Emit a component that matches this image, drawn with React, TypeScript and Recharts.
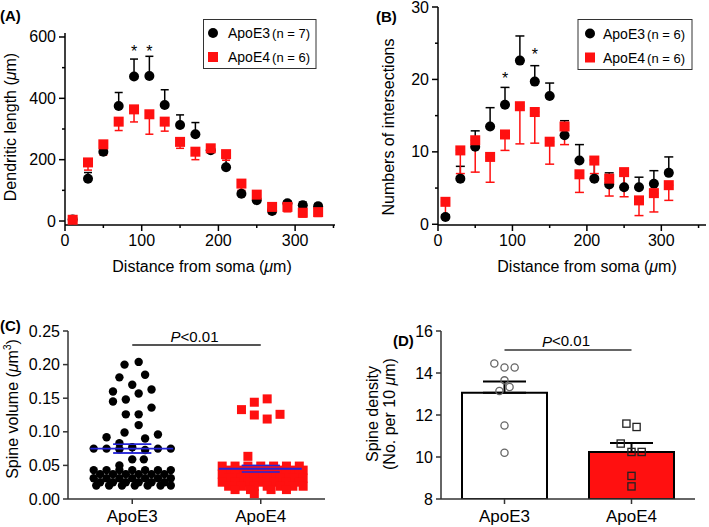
import React from 'react';
import { ComposedChart, Scatter, XAxis, YAxis, ErrorBar, Bar, Cell, ReferenceLine } from 'recharts';

const FONT = '"Liberation Sans", Arial, Helvetica, sans-serif';
const RED = '#ff1010';
const BLUE = '#2424d8';

// ---------- Panel A : dendritic length ----------
const distA = [10, 30, 50, 70, 90, 110, 130, 150, 170, 190, 210, 230, 250, 270, 290, 310, 330];
const lengthE3 = [5, 138, 226, 375, 471, 473, 378, 313, 283, 231, 175, 89, 68, 33, 58, 51, 48];
const lengthE3Err = [12, 20, 32, 44, 57, 64, 50, 33, 38, 17, 29, 22, 16, 7, 8, 11, 9];
const lengthE4 = [4, 191, 250, 324, 364, 348, 324, 258, 226, 237, 218, 122, 86, 46, 46, 27, 29];
const lengthE4Err = [3, 25, 35, 29, 41, 65, 31, 21, 26, 11, 20, 22, 16, 22, 16, 14, 14];
const sigAx = [90, 110];
const sigAy = [565, 565];
const ticksAx = [0, 50, 100, 150, 200, 250, 300, 350];
const ticksAy = [0, 100, 200, 300, 400, 500, 600];

// ---------- Panel B : intersections ----------
const distB = [10, 30, 50, 70, 90, 110, 130, 150, 170, 190, 210, 230, 250, 270, 290, 310];
const interE3 = [1.0, 6.3, 10.7, 13.5, 16.5, 22.6, 19.7, 17.7, 12.3, 8.8, 6.3, 5.5, 5.1, 5.1, 5.6, 7.1];
const interE3Err = [0.3, 1.7, 2.2, 2.6, 2.4, 3.4, 2.2, 1.8, 2.0, 2.2, 2.6, 1.6, 2.5, 1.4, 1.8, 2.2];
const interE4 = [3.1, 10.2, 11.6, 9.3, 12.4, 16.3, 15.5, 11.4, 13.5, 6.9, 8.8, 6.3, 7.2, 3.3, 4.3, 5.4];
const interE4Err = [2.1, 3.2, 4.4, 3.5, 2.2, 5.2, 4.3, 3.1, 2.5, 2.5, 1.8, 2.4, 3.4, 2.1, 2.6, 2.1];
const sigBx = [90, 130];
const sigBy = [20.6, 23.9];
const ticksBx = [0, 50, 100, 150, 200, 250, 300, 350];
const ticksBy = [0, 5, 10, 15, 20, 25, 30];

// ---------- Panel C : spine volume ----------
const groups = ['ApoE3', 'ApoE4'];
const volE3 = [
  0.200, 0.204, 0.181, 0.185, 0.170, 0.160, 0.163, 0.157, 0.145, 0.148, 0.136, 0.126, 0.126, 0.110,
  0.099, 0.096, 0.092, 0.090, 0.083,
  0.075, 0.075, 0.077, 0.075, 0.075, 0.074, 0.073,
  0.059, 0.059, 0.050,
  0.043, 0.043, 0.043, 0.043, 0.043, 0.043, 0.043,
  0.037, 0.037, 0.037, 0.037, 0.037, 0.037,
  0.031, 0.031, 0.031, 0.031, 0.031, 0.031, 0.031,
  0.025, 0.025, 0.025, 0.025, 0.025, 0.025,
  0.020, 0.020, 0.020, 0.020, 0.020, 0.020, 0.020,
];
const volE3Jitter = [
  -0.06, 0.05, -0.10, 0.10, 0.00, -0.15, 0.15, 0.05, -0.15, -0.05, 0.15, -0.05, 0.05, 0.05,
  -0.06, 0.20, -0.20, 0.10, -0.10,
  -0.30, -0.20, 0.00, 0.20, 0.30, -0.10, 0.10,
  0.00, 0.09, -0.10,
  -0.30, -0.20, -0.10, 0.00, 0.10, 0.20, 0.30,
  -0.25, -0.15, -0.05, 0.05, 0.15, 0.25,
  -0.30, -0.20, -0.10, 0.00, 0.10, 0.20, 0.30,
  -0.25, -0.15, -0.05, 0.05, 0.15, 0.25,
  -0.28, -0.18, -0.08, 0.02, 0.12, 0.22, 0.30,
];
const volE4 = [
  0.133, 0.144, 0.149, 0.125, 0.119, 0.126, 0.0635,
  0.049, 0.049, 0.049, 0.049, 0.049, 0.049, 0.049,
  0.043, 0.043, 0.043, 0.043, 0.043, 0.043, 0.043,
  0.037, 0.037, 0.037, 0.037, 0.037, 0.037, 0.037,
  0.031, 0.031, 0.031, 0.031, 0.031, 0.031, 0.031,
  0.025, 0.025, 0.025, 0.025, 0.025, 0.025, 0.025,
  0.019, 0.019, 0.019, 0.019, 0.019, 0.019, 0.019,
  0.014, 0.014, 0.014, 0.014, 0.008,
];
const volE4Jitter = [
  -0.15, -0.05, 0.05, -0.05, 0.05, 0.15, -0.10,
  -0.30, -0.20, -0.10, 0.00, 0.10, 0.20, 0.30,
  -0.25, -0.15, -0.05, 0.05, 0.15, 0.25, 0.33,
  -0.30, -0.20, -0.10, 0.00, 0.10, 0.20, 0.30,
  -0.25, -0.15, -0.05, 0.05, 0.15, 0.25, 0.33,
  -0.30, -0.20, -0.10, 0.00, 0.10, 0.20, 0.30,
  -0.25, -0.15, -0.05, 0.05, 0.15, 0.25, 0.33,
  -0.20, -0.08, 0.08, 0.20, -0.05,
];
const volMean = [0.075, 0.045];
const volSem = [0.0065, 0.0048];
const volPLine = 0.229;
const ticksCy = [0, 0.05, 0.1, 0.15, 0.2, 0.25];

// ---------- Panel D : spine density ----------
const densMean = [13.06, 10.24];
const densSem = [0.54, 0.43];
const densE3 = [14.45, 14.26, 14.26, 13.65, 13.33, 13.14, 11.5, 10.2];
const densE3Jitter = [-0.08, 0.0, 0.08, 0.0, 0.04, -0.04, 0.0, 0.0];
const densE4 = [11.59, 11.43, 10.64, 10.24, 10.24, 9.1, 8.6];
const densE4Jitter = [-0.04, 0.04, -0.085, 0.0, 0.08, 0.0, 0.0];
const densPLine = 15.1;
const ticksDy = [8, 10, 12, 14, 16];

// ---------- derived rows ----------
const rowsA3 = distA.map((x, i) => ({ x, y: lengthE3[i], err: [0, lengthE3Err[i]] }));
const rowsA4 = distA.map((x, i) => ({ x, y: lengthE4[i], err: [lengthE4Err[i], 0] }));
const rowsAsig = sigAx.map((x, i) => ({ x, y: sigAy[i] }));
const rowsB3 = distB.map((x, i) => ({ x, y: interE3[i], err: [0, interE3Err[i]] }));
const rowsB4 = distB.map((x, i) => ({ x, y: interE4[i], err: [interE4Err[i], 0] }));
const rowsBsig = sigBx.map((x, i) => ({ x, y: sigBy[i] }));
const rowsC3 = volE3.map((y, i) => ({ x: 0.5 + volE3Jitter[i], y }));
const rowsC4 = volE4.map((y, i) => ({ x: 1.5 + volE4Jitter[i], y }));
const rowsCmean = volMean.map((y, i) => ({ x: i + 0.5, y, err: volSem[i] }));
const rowsCsem = volMean.flatMap((y, i) => [
  { x: i + 0.5, y: y + volSem[i] },
  { x: i + 0.5, y: y - volSem[i] },
]);
const rowsD = groups.map((name, i) => ({ name, mean: densMean[i], err: [0, densSem[i]] }));
const rowsD3 = densE3.map((y, i) => ({ x: 0.5 + densE3Jitter[i], y }));
const rowsD4 = densE4.map((y, i) => ({ x: 1.5 + densE4Jitter[i], y }));

// ---------- helpers ----------
type TickCfg = {
  fs: number; len: number; minorLen: number; gap: number; color: string;
  major?: (v: any) => boolean; fmt?: (v: any) => string;
};
const bottomTick = (c: TickCfg) => (p: any) => {
  const v = p.payload.value;
  const isMajor = c.major ? c.major(v) : true;
  return (
    <g key={`bt-${v}`}>
      <line x1={p.x} x2={p.x} y1={p.y} y2={p.y + (isMajor ? c.len : c.minorLen)} stroke={c.color} strokeWidth={1.5} />
      {isMajor && (
        <text x={p.x} y={p.y + c.gap} textAnchor="middle" dominantBaseline="central" fontFamily={FONT} fontSize={c.fs} fill="#000">
          {c.fmt ? c.fmt(v) : String(v)}
        </text>
      )}
    </g>
  );
};
const leftTick = (c: TickCfg) => (p: any) => {
  const v = p.payload.value;
  const isMajor = c.major ? c.major(v) : true;
  return (
    <g key={`lt-${v}`}>
      <line x1={p.x} x2={p.x - (isMajor ? c.len : c.minorLen)} y1={p.y} y2={p.y} stroke={c.color} strokeWidth={1.5} />
      {isMajor && (
        <text x={p.x - c.gap} y={p.y} textAnchor="end" dominantBaseline="central" fontFamily={FONT} fontSize={c.fs} fill="#000">
          {c.fmt ? c.fmt(v) : String(v)}
        </text>
      )}
    </g>
  );
};
const dot = (r: number, fill: string) => (p: any) => <circle cx={p.cx} cy={p.cy} r={r} fill={fill} />;
const sq = (s: number, fill: string) => (p: any) => <rect x={p.cx - s / 2} y={p.cy - s / 2} width={s} height={s} fill={fill} />;
const openDot = (p: any) => <circle cx={p.cx} cy={p.cy} r={3.6} fill="none" stroke="#666" strokeWidth={1.3} />;
const openSq = (p: any) => <rect x={p.cx - 3.6} y={p.cy - 3.6} width={7.2} height={7.2} fill="none" stroke="#222" strokeWidth={1.3} />;
const meanLine = (p: any) => (
  <line x1={p.cx - 42} x2={p.cx + 41} y1={p.cy} y2={p.cy} stroke={BLUE} strokeWidth={1.8} />
);
const semCap = (p: any) => (
  <line x1={p.cx - 19} x2={p.cx + 19} y1={p.cy} y2={p.cy} stroke={BLUE} strokeWidth={1.5} />
);
const star = (p: any) => (
  <text x={p.cx} y={p.cy + 9} textAnchor="middle" fontFamily={FONT} fontSize={16} fill="#000">*</text>
);
const pLabel = (p: any) => {
  const vb = p.viewBox || {};
  const cx = (vb.x ?? 0) + (vb.width ?? 0) / 2;
  return (
    <text x={cx - 2} y={(vb.y ?? 0) - 9} textAnchor="middle" dominantBaseline="central" fontFamily={FONT} fontSize={15} fill="#000">
      <tspan fontStyle="italic">P</tspan>&lt;0.01
    </text>
  );
};

const axisBlack = { stroke: '#000', strokeWidth: 1.5 };
const axisGray = { stroke: '#333', strokeWidth: 1.5 };

const Mu = () => <tspan fontStyle="italic">μ</tspan>;

export default function App() {
  return (
    <div style={{ position: 'absolute', left: 0, top: 0, width: 709, height: 527, background: '#fff', fontFamily: FONT }}>
      {/* Panel A */}
      <div style={{ position: 'absolute', left: 0, top: 0 }}>
        <ComposedChart width={350} height={275} margin={{ top: 33, right: 15, bottom: 0, left: 0 }}>
          <XAxis type="number" dataKey="x" domain={[0, 352]} ticks={ticksAx} interval={0} allowDataOverflow
            tickSize={0} tickMargin={0} tickLine={false} axisLine={axisBlack} height={50}
            tick={bottomTick({ fs: 16, len: 6, minorLen: 3, gap: 15, color: '#000', major: (v) => v % 100 === 0 })} />
          <YAxis type="number" domain={[-13, 613]} ticks={ticksAy} interval={0} allowDataOverflow
            tickSize={0} tickMargin={0} tickLine={false} axisLine={axisBlack} width={65}
            tick={leftTick({ fs: 16, len: 6, minorLen: 3, gap: 9, color: '#000', major: (v) => v % 200 === 0 })} />
          <Scatter data={rowsA3} dataKey="y" isAnimationActive={false} shape={dot(5, '#000')}>
            <ErrorBar dataKey="err" direction="y" width={4} stroke="#000" strokeWidth={1.5} isAnimationActive={false} />
          </Scatter>
          <Scatter data={rowsA4} dataKey="y" isAnimationActive={false} shape={sq(10, RED)}>
            <ErrorBar dataKey="err" direction="y" width={4} stroke={RED} strokeWidth={1.5} isAnimationActive={false} />
          </Scatter>
          <Scatter data={rowsAsig} dataKey="y" isAnimationActive={false} shape={star} />
        </ComposedChart>
      </div>

      {/* Panel B */}
      <div style={{ position: 'absolute', left: 355, top: 0 }}>
        <ComposedChart width={354} height={275} margin={{ top: 7, right: 3, bottom: 0, left: 0 }}>
          <XAxis type="number" dataKey="x" domain={[0, 360]} ticks={ticksBx} interval={0} allowDataOverflow
            tickSize={0} tickMargin={0} tickLine={false} axisLine={axisBlack} height={50}
            tick={bottomTick({ fs: 16, len: 6, minorLen: 3, gap: 15, color: '#000', major: (v) => v % 100 === 0 })} />
          <YAxis type="number" domain={[-0.1, 30]} ticks={ticksBy} interval={0} allowDataOverflow
            tickSize={0} tickMargin={0} tickLine={false} axisLine={axisBlack} width={83}
            tick={leftTick({ fs: 16, len: 6, minorLen: 3, gap: 9, color: '#000', major: (v) => v % 10 === 0 })} />
          <Scatter data={rowsB3} dataKey="y" isAnimationActive={false} shape={dot(5, '#000')}>
            <ErrorBar dataKey="err" direction="y" width={4.5} stroke="#000" strokeWidth={1.5} isAnimationActive={false} />
          </Scatter>
          <Scatter data={rowsB4} dataKey="y" isAnimationActive={false} shape={sq(10, RED)}>
            <ErrorBar dataKey="err" direction="y" width={4.5} stroke={RED} strokeWidth={1.5} isAnimationActive={false} />
          </Scatter>
          <Scatter data={rowsBsig} dataKey="y" isAnimationActive={false} shape={star} />
        </ComposedChart>
      </div>

      {/* Panel C */}
      <div style={{ position: 'absolute', left: 0, top: 270 }}>
        <ComposedChart width={340} height={257} margin={{ top: 61, right: 15, bottom: 0, left: 0 }}>
          <XAxis type="number" dataKey="x" domain={[0, 2]} ticks={[0.5, 1.5]} interval={0} allowDataOverflow
            tickSize={0} tickMargin={0} tickLine={false} axisLine={axisGray} height={28}
            tick={bottomTick({ fs: 17, len: 5, minorLen: 5, gap: 17.5, color: '#333', fmt: (v) => groups[Math.floor(v)] })} />
          <YAxis type="number" domain={[0, 0.25]} ticks={ticksCy} interval={0} allowDataOverflow
            tickSize={0} tickMargin={0} tickLine={false} axisLine={axisGray} width={68}
            tick={leftTick({ fs: 16, len: 5, minorLen: 5, gap: 8, color: '#333', fmt: (v) => Number(v).toFixed(2) })} />
          <Scatter data={rowsC3} dataKey="y" isAnimationActive={false} shape={dot(4.2, '#000')} />
          <Scatter data={rowsC4} dataKey="y" isAnimationActive={false} shape={sq(9, RED)} />
          <Scatter data={rowsCmean} dataKey="y" isAnimationActive={false} shape={meanLine}>
            <ErrorBar dataKey="err" direction="y" width={19} stroke={BLUE} strokeWidth={1.5} isAnimationActive={false} />
          </Scatter>
          <Scatter data={rowsCsem} dataKey="y" isAnimationActive={false} shape={semCap} />
          <ReferenceLine segment={[{ x: 0.5, y: volPLine }, { x: 1.5, y: volPLine }]} stroke="#555" strokeWidth={2}
            label={{ content: pLabel }} />
        </ComposedChart>
      </div>

      {/* Panel D */}
      <div style={{ position: 'absolute', left: 355, top: 270 }}>
        <ComposedChart width={354} height={257} data={rowsD} margin={{ top: 61, right: 14, bottom: 0, left: 0 }}>
          <XAxis xAxisId="cat" dataKey="name" type="category" interval={0}
            tickSize={0} tickMargin={0} tickLine={false} axisLine={axisGray} height={28}
            tick={bottomTick({ fs: 17, len: 5, minorLen: 5, gap: 17.5, color: '#333' })} />
          <XAxis xAxisId="num" type="number" dataKey="x" domain={[0, 2]} hide allowDataOverflow />
          <YAxis type="number" domain={[8, 16]} ticks={ticksDy} interval={0} allowDataOverflow
            tickSize={0} tickMargin={0} tickLine={false} axisLine={axisGray} width={86}
            tick={leftTick({ fs: 16, len: 5, minorLen: 5, gap: 8, color: '#333' })} />
          <Bar xAxisId="cat" dataKey="mean" barSize={85} stroke="#000" strokeWidth={2} isAnimationActive={false}>
            <Cell fill="#ffffff" />
            <Cell fill={RED} />
            <ErrorBar dataKey="err" direction="y" width={21.5} stroke="#000" strokeWidth={2} isAnimationActive={false} />
          </Bar>
          <Scatter xAxisId="num" data={rowsD3} dataKey="y" isAnimationActive={false} shape={openDot} />
          <Scatter xAxisId="num" data={rowsD4} dataKey="y" isAnimationActive={false} shape={openSq} />
          <ReferenceLine xAxisId="num" segment={[{ x: 0.5, y: densPLine }, { x: 1.5, y: densPLine }]} stroke="#333" strokeWidth={1.5}
            label={{ content: pLabel }} />
        </ComposedChart>
      </div>

      {/* Titles, panel letters, legends */}
      <svg width={709} height={527} style={{ position: 'absolute', left: 0, top: 0, pointerEvents: 'none' }}>
        <g fontFamily={FONT} fill="#000">
          <text x={0} y={15} dominantBaseline="central" fontSize={15} fontWeight="bold">(A)</text>
          <text x={376} y={16.5} dominantBaseline="central" fontSize={15} fontWeight="bold">(B)</text>
          <text x={0} y={325} dominantBaseline="central" fontSize={15} fontWeight="bold">(C)</text>
          <text x={393} y={340} dominantBaseline="central" fontSize={15} fontWeight="bold">(D)</text>

          <text x={202} y={266} textAnchor="middle" dominantBaseline="central" fontSize={16}>
            Distance from soma (<Mu />m)
          </text>
          <text x={587} y={266} textAnchor="middle" dominantBaseline="central" fontSize={16}>
            Distance from soma (<Mu />m)
          </text>
          <text x={10} y={127} textAnchor="middle" dominantBaseline="central" fontSize={16} transform="rotate(-90 10 127)">
            Dendritic length (<Mu />m)
          </text>
          <text x={388} y={127} textAnchor="middle" dominantBaseline="central" fontSize={16} transform="rotate(-90 388 127)">
            Numbers of intersections
          </text>
          <text x={12} y={409} textAnchor="middle" dominantBaseline="central" fontSize={16} transform="rotate(-90 12 409)">
            Spine volume (<Mu />m<tspan dy={-5} fontSize={10}>3</tspan><tspan dy={5}>)</tspan>
          </text>
          <text x={372} y={414} textAnchor="middle" dominantBaseline="central" fontSize={16} transform="rotate(-90 372 414)">
            Spine density
          </text>
          <text x={389} y={414} textAnchor="middle" dominantBaseline="central" fontSize={16} transform="rotate(-90 389 414)">
            (No. per 10 <Mu />m)
          </text>

          {/* Legend A */}
          <rect x={203.5} y={19.5} width={112.5} height={49} fill="#fff" stroke="#333" strokeWidth={1} />
          <circle cx={213} cy={33} r={5} fill="#000" />
          <text x={228} y={33} dominantBaseline="central" fontSize={14}>ApoE3<tspan dx={2} fontSize={13}>(n = 7)</tspan></text>
          <rect x={208} y={52} width={10} height={10} fill={RED} />
          <text x={228} y={57} dominantBaseline="central" fontSize={14}>ApoE4<tspan dx={2} fontSize={13}>(n = 6)</tspan></text>

          {/* Legend B */}
          <rect x={578} y={19.5} width={114} height={50} fill="#fff" stroke="#333" strokeWidth={1} />
          <circle cx={590} cy={33.5} r={5} fill="#000" />
          <text x={603} y={33.5} dominantBaseline="central" fontSize={14}>ApoE3<tspan dx={2} fontSize={13}>(n = 6)</tspan></text>
          <rect x={585} y={52.5} width={10} height={10} fill={RED} />
          <text x={603} y={57.5} dominantBaseline="central" fontSize={14}>ApoE4<tspan dx={2} fontSize={13}>(n = 6)</tspan></text>
        </g>
      </svg>
    </div>
  );
}
